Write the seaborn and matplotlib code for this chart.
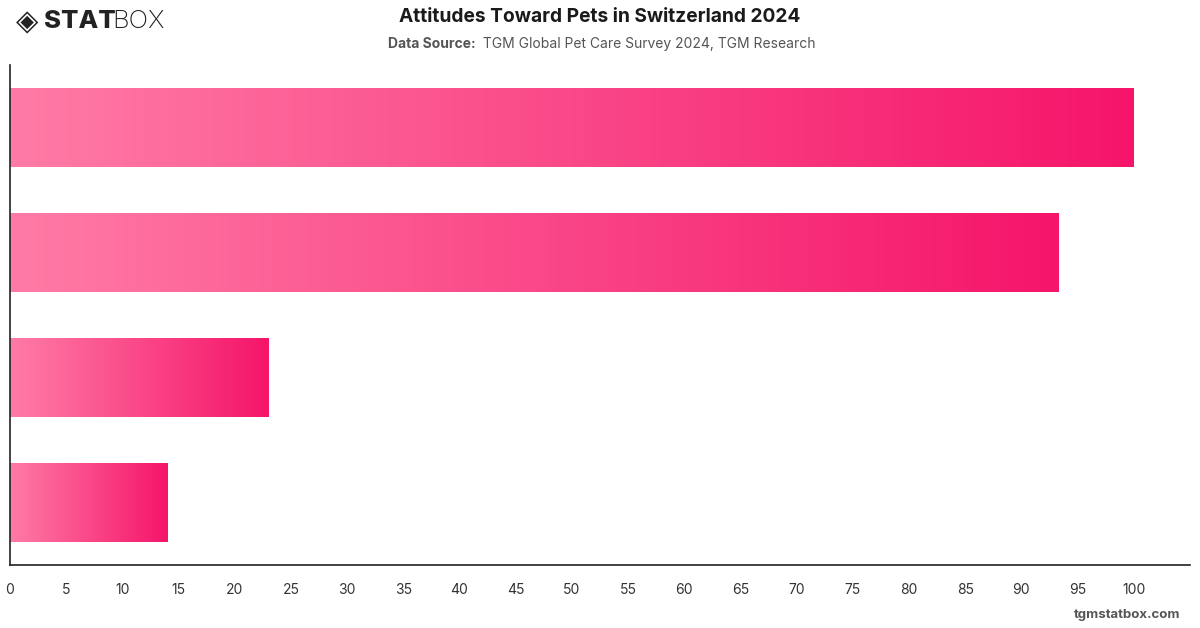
import numpy as np
import pandas as pd
import matplotlib.pyplot as plt
import seaborn as sns
from matplotlib.colors import LinearSegmentedColormap

# Chart data (category labels are not shown in the chart)
categories = ['Attitude 1', 'Attitude 2', 'Attitude 3', 'Attitude 4']
values = [100, 93.3, 23.0, 14.0]
ticks = list(range(0, 101, 5))

df = pd.DataFrame({'category': categories, 'value': values})

sns.set_style('white')
plt.rcParams['font.family'] = ['Inter', 'DejaVu Sans']

fig = plt.figure(figsize=(12, 6.28), dpi=100)
ax = fig.add_axes([10 / 1200, 1 - 565 / 628, 1180 / 1200, 500 / 628])

sns.barplot(data=df, x='value', y='category', orient='h', width=0.63,
            color='#ff77a3', ax=ax)

# gradient fill per bar, light pink -> deep pink
cmap = LinearSegmentedColormap.from_list('pink', ['#ff7ba6', '#f5156a'])
grad = np.linspace(0, 1, 256).reshape(1, -1)
for p in ax.patches:
    x0, y0 = p.get_x(), p.get_y()
    w, h = p.get_width(), p.get_height()
    p.set_facecolor('none')
    p.set_edgecolor('none')
    im = ax.imshow(grad, cmap=cmap, aspect='auto', extent=[x0, x0 + w, y0 + h, y0],
                   zorder=2)
    im.set_clip_path(p)

ax.set_xlim(0, 105)
ax.set_ylim(3.5, -0.5)
ax.set_xticks(ticks)
ax.set_xticklabels([str(t) for t in ticks], fontsize=10, color='#333333')
ax.tick_params(axis='x', length=0, pad=13)
ax.set_yticks([])
ax.set_xlabel('')
ax.set_ylabel('')
for side in ['top', 'right']:
    ax.spines[side].set_visible(False)
for side in ['left', 'bottom']:
    ax.spines[side].set_color('#222222')
    ax.spines[side].set_linewidth(1.2)

# header
fig.text(0.5, 1 - 17 / 628, 'Attitudes Toward Pets in Switzerland 2024', ha='center', va='center',
         fontsize=13.8, fontweight='bold', color='#1a1a1a')

# subtitle: bold label + regular text, centred together
sub_y = 1 - 44 / 628
t1 = fig.text(0, sub_y, 'Data Source:', ha='left', va='center', fontsize=10,
              fontweight='bold', color='#555555')
t2 = fig.text(0, sub_y, ' TGM Global Pet Care Survey 2024, TGM Research', ha='left',
              va='center', fontsize=10, color='#555555')
r = fig.canvas.get_renderer()
w1 = t1.get_window_extent(r).width
w2 = t2.get_window_extent(r).width
start = 600 - (w1 + w2) / 2
t1.set_x(start / 1200)
t2.set_x((start + w1 + 3) / 1200)

# logo
fig.text(16 / 1200, 1 - 22 / 628, '◈', ha='left', va='center', fontsize=21,
         color='#222222', family=['DejaVu Sans'])
fig.text(44 / 1200, 1 - 22 / 628, 'STAT', ha='left', va='center', fontsize=18.5,
         fontweight='heavy', color='#222222')
fig.text(112 / 1200, 1 - 22 / 628, 'BOX', ha='left', va='center', fontsize=18.5,
         fontweight='light', color='#222222')

# footer
fig.text(1180 / 1200, 1 - 615 / 628, 'tgmstatbox.com', ha='right', va='center',
         fontsize=9.5, fontweight='bold', color='#555555')

fig.savefig('out.png', dpi=100)
